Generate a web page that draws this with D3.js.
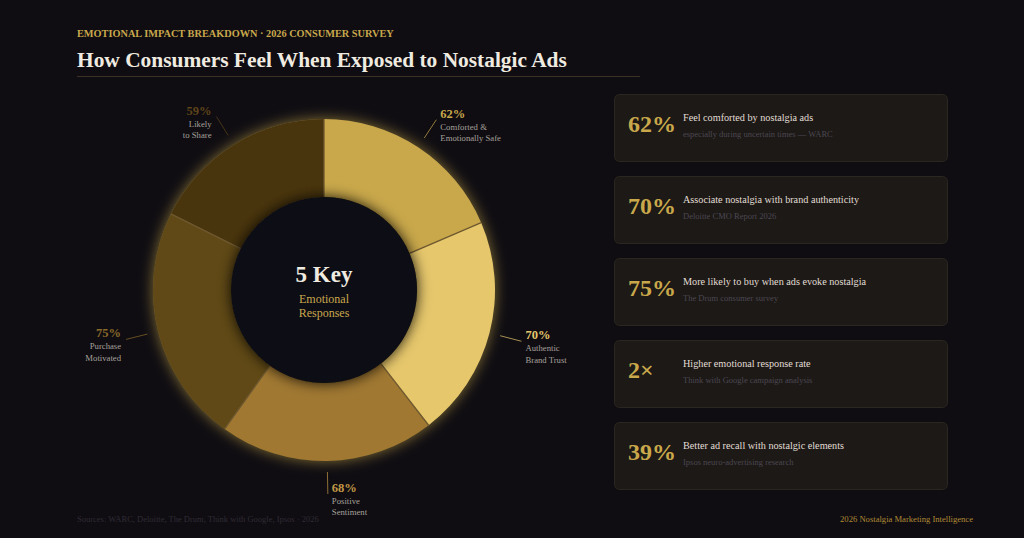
<!DOCTYPE html>
<html><head><meta charset="utf-8">
<script src="https://cdn.jsdelivr.net/npm/d3@7"></script>
<style>
html,body{margin:0;padding:0;background:#0f0d12;}
svg{display:block;font-family:"Liberation Serif","Times New Roman",serif;}
</style></head>
<body>
<svg id="chart" width="1024" height="538"></svg>
<script>
const categories = ["Comforted &|Emotionally Safe","Authentic|Brand Trust","Positive|Sentiment","Purchase|Motivated","Likely|to Share"];
const values = [62, 70, 68, 75, 59];
const sliceColors = ["#c9a84c","#e6c76c","#a07830","#614818","#4a3410"];
const labelColors = ["#c9a84c","#e6c76c","#c39845","#8a6a2a","#5e4418"];

const cardStats = ["62%","70%","75%","2×","39%"];
const cardTitles = ["Feel comforted by nostalgia ads","Associate nostalgia with brand authenticity","More likely to buy when ads evoke nostalgia","Higher emotional response rate","Better ad recall with nostalgic elements"];
const cardSources = ["especially during uncertain times — WARC","Deloitte CMO Report 2026","The Drum consumer survey","Think with Google campaign analysis","Ipsos neuro-advertising research"];

const svg = d3.select("#chart");
const defs = svg.append("defs");
const glow = defs.append("filter").attr("id","glow").attr("x","-30%").attr("y","-30%").attr("width","160%").attr("height","160%");
glow.append("feDropShadow").attr("dx",0).attr("dy",0).attr("stdDeviation",7).attr("flood-color","#e6c050").attr("flood-opacity",0.55);
const inner = defs.append("filter").attr("id","innerShadow").attr("x","-40%").attr("y","-40%").attr("width","180%").attr("height","180%");
inner.append("feDropShadow").attr("dx",0).attr("dy",0).attr("stdDeviation",7).attr("flood-color","#000").attr("flood-opacity",0.9);

// header
svg.append("text").attr("x",77).attr("y",37).attr("fill","#c9a84c").attr("font-size",10.3).attr("font-weight","bold")
  .text("EMOTIONAL IMPACT BREAKDOWN · 2026 CONSUMER SURVEY");
svg.append("text").attr("x",77).attr("y",67).attr("fill","#f0ebe0").attr("font-size",21.4).attr("font-weight","bold")
  .text("How Consumers Feel When Exposed to Nostalgic Ads");
svg.append("line").attr("x1",77).attr("x2",640).attr("y1",76.5).attr("y2",76.5).attr("stroke","#3a3124").attr("stroke-width",1);

// donut
const cx = 324, cy = 290, rOuter = 171, rInner = 93;
const pie = d3.pie().value(d => d).sort(null);
const arcs = pie(values);
const arc = d3.arc().innerRadius(rInner).outerRadius(rOuter);
const g = svg.append("g").attr("transform",`translate(${cx},${cy})`);
const ring = g.append("g").attr("filter","url(#glow)");
ring.selectAll("path").data(arcs).join("path")
  .attr("d", arc)
  .attr("fill",(d,i)=>sliceColors[i]);
// separators at slice boundaries
g.append("g").selectAll("line").data(arcs).join("line")
  .attr("x1",d=>rInner*Math.sin(d.startAngle)).attr("y1",d=>-rInner*Math.cos(d.startAngle))
  .attr("x2",d=>rOuter*Math.sin(d.startAngle)).attr("y2",d=>-rOuter*Math.cos(d.startAngle))
  .attr("stroke","#6e5830").attr("stroke-width",1.3);
g.append("circle").attr("r",rInner).attr("fill","#111013").attr("filter","url(#innerShadow)");

// labels
const lineArc1 = d3.arc().innerRadius(182).outerRadius(182);
const lineArc2 = d3.arc().innerRadius(204).outerRadius(204);
arcs.forEach((d,i) => {
  const p1 = lineArc1.centroid(d), p2 = lineArc2.centroid(d);
  const mid = (d.startAngle + d.endAngle)/2;
  const right = Math.sin(mid) >= -0.01;
  g.append("line").attr("x1",p1[0]).attr("y1",p1[1]).attr("x2",p2[0]).attr("y2",p2[1])
    .attr("stroke",labelColors[i]).attr("stroke-opacity",0.7).attr("stroke-width",1);
  const tx = p2[0] + (right ? 4 : -5);
  const anchor = right ? "start" : "end";
  g.append("text").attr("x",tx).attr("y",p2[1]-2).attr("text-anchor",anchor)
    .attr("fill",labelColors[i]).attr("font-size",12.5).attr("font-weight","bold").text(values[i]+"%");
  categories[i].split("|").forEach((t,k) => {
    g.append("text").attr("x",tx).attr("y",p2[1]+10+k*11.5).attr("text-anchor",anchor)
      .attr("fill","#a6a09a").attr("font-size",8.7).text(t);
  });
});

// center text
g.append("text").attr("y",-8).attr("text-anchor","middle").attr("fill","#f0ebe0").attr("font-size",23).attr("font-weight","bold").text("5 Key");
g.append("text").attr("y",13).attr("text-anchor","middle").attr("fill","#c9a84c").attr("font-size",12).text("Emotional");
g.append("text").attr("y",27).attr("text-anchor","middle").attr("fill","#c9a84c").attr("font-size",12).text("Responses");

// cards
const cards = svg.append("g").selectAll("g").data(cardStats).join("g")
  .attr("transform",(d,i)=>`translate(614,${94 + i*82})`);
cards.append("rect").attr("x",0.5).attr("y",0.5).attr("width",333).attr("height",67).attr("rx",5)
  .attr("fill","#1c1916").attr("stroke","#2a2620");
cards.append("text").attr("x",14).attr("y",38).attr("fill","#c9a84c").attr("font-size",24).attr("font-weight","bold")
  .text(d=>d);
cards.append("text").attr("x",69).attr("y",27).attr("fill","#e2ddd5").attr("font-size",10.2).text((d,i)=>cardTitles[i]);
cards.append("text").attr("x",69).attr("y",43).attr("fill","#4c4752").attr("font-size",8.5).text((d,i)=>cardSources[i]);

// footer
svg.append("text").attr("x",77).attr("y",522).attr("fill","#2f2b34").attr("font-size",8.5)
  .text("Sources: WARC, Deloitte, The Drum, Think with Google, Ipsos · 2026");
svg.append("text").attr("x",973).attr("y",522).attr("text-anchor","end").attr("fill","#b08a35").attr("font-size",8.6)
  .text("2026 Nostalgia Marketing Intelligence");
</script>
</body></html>
